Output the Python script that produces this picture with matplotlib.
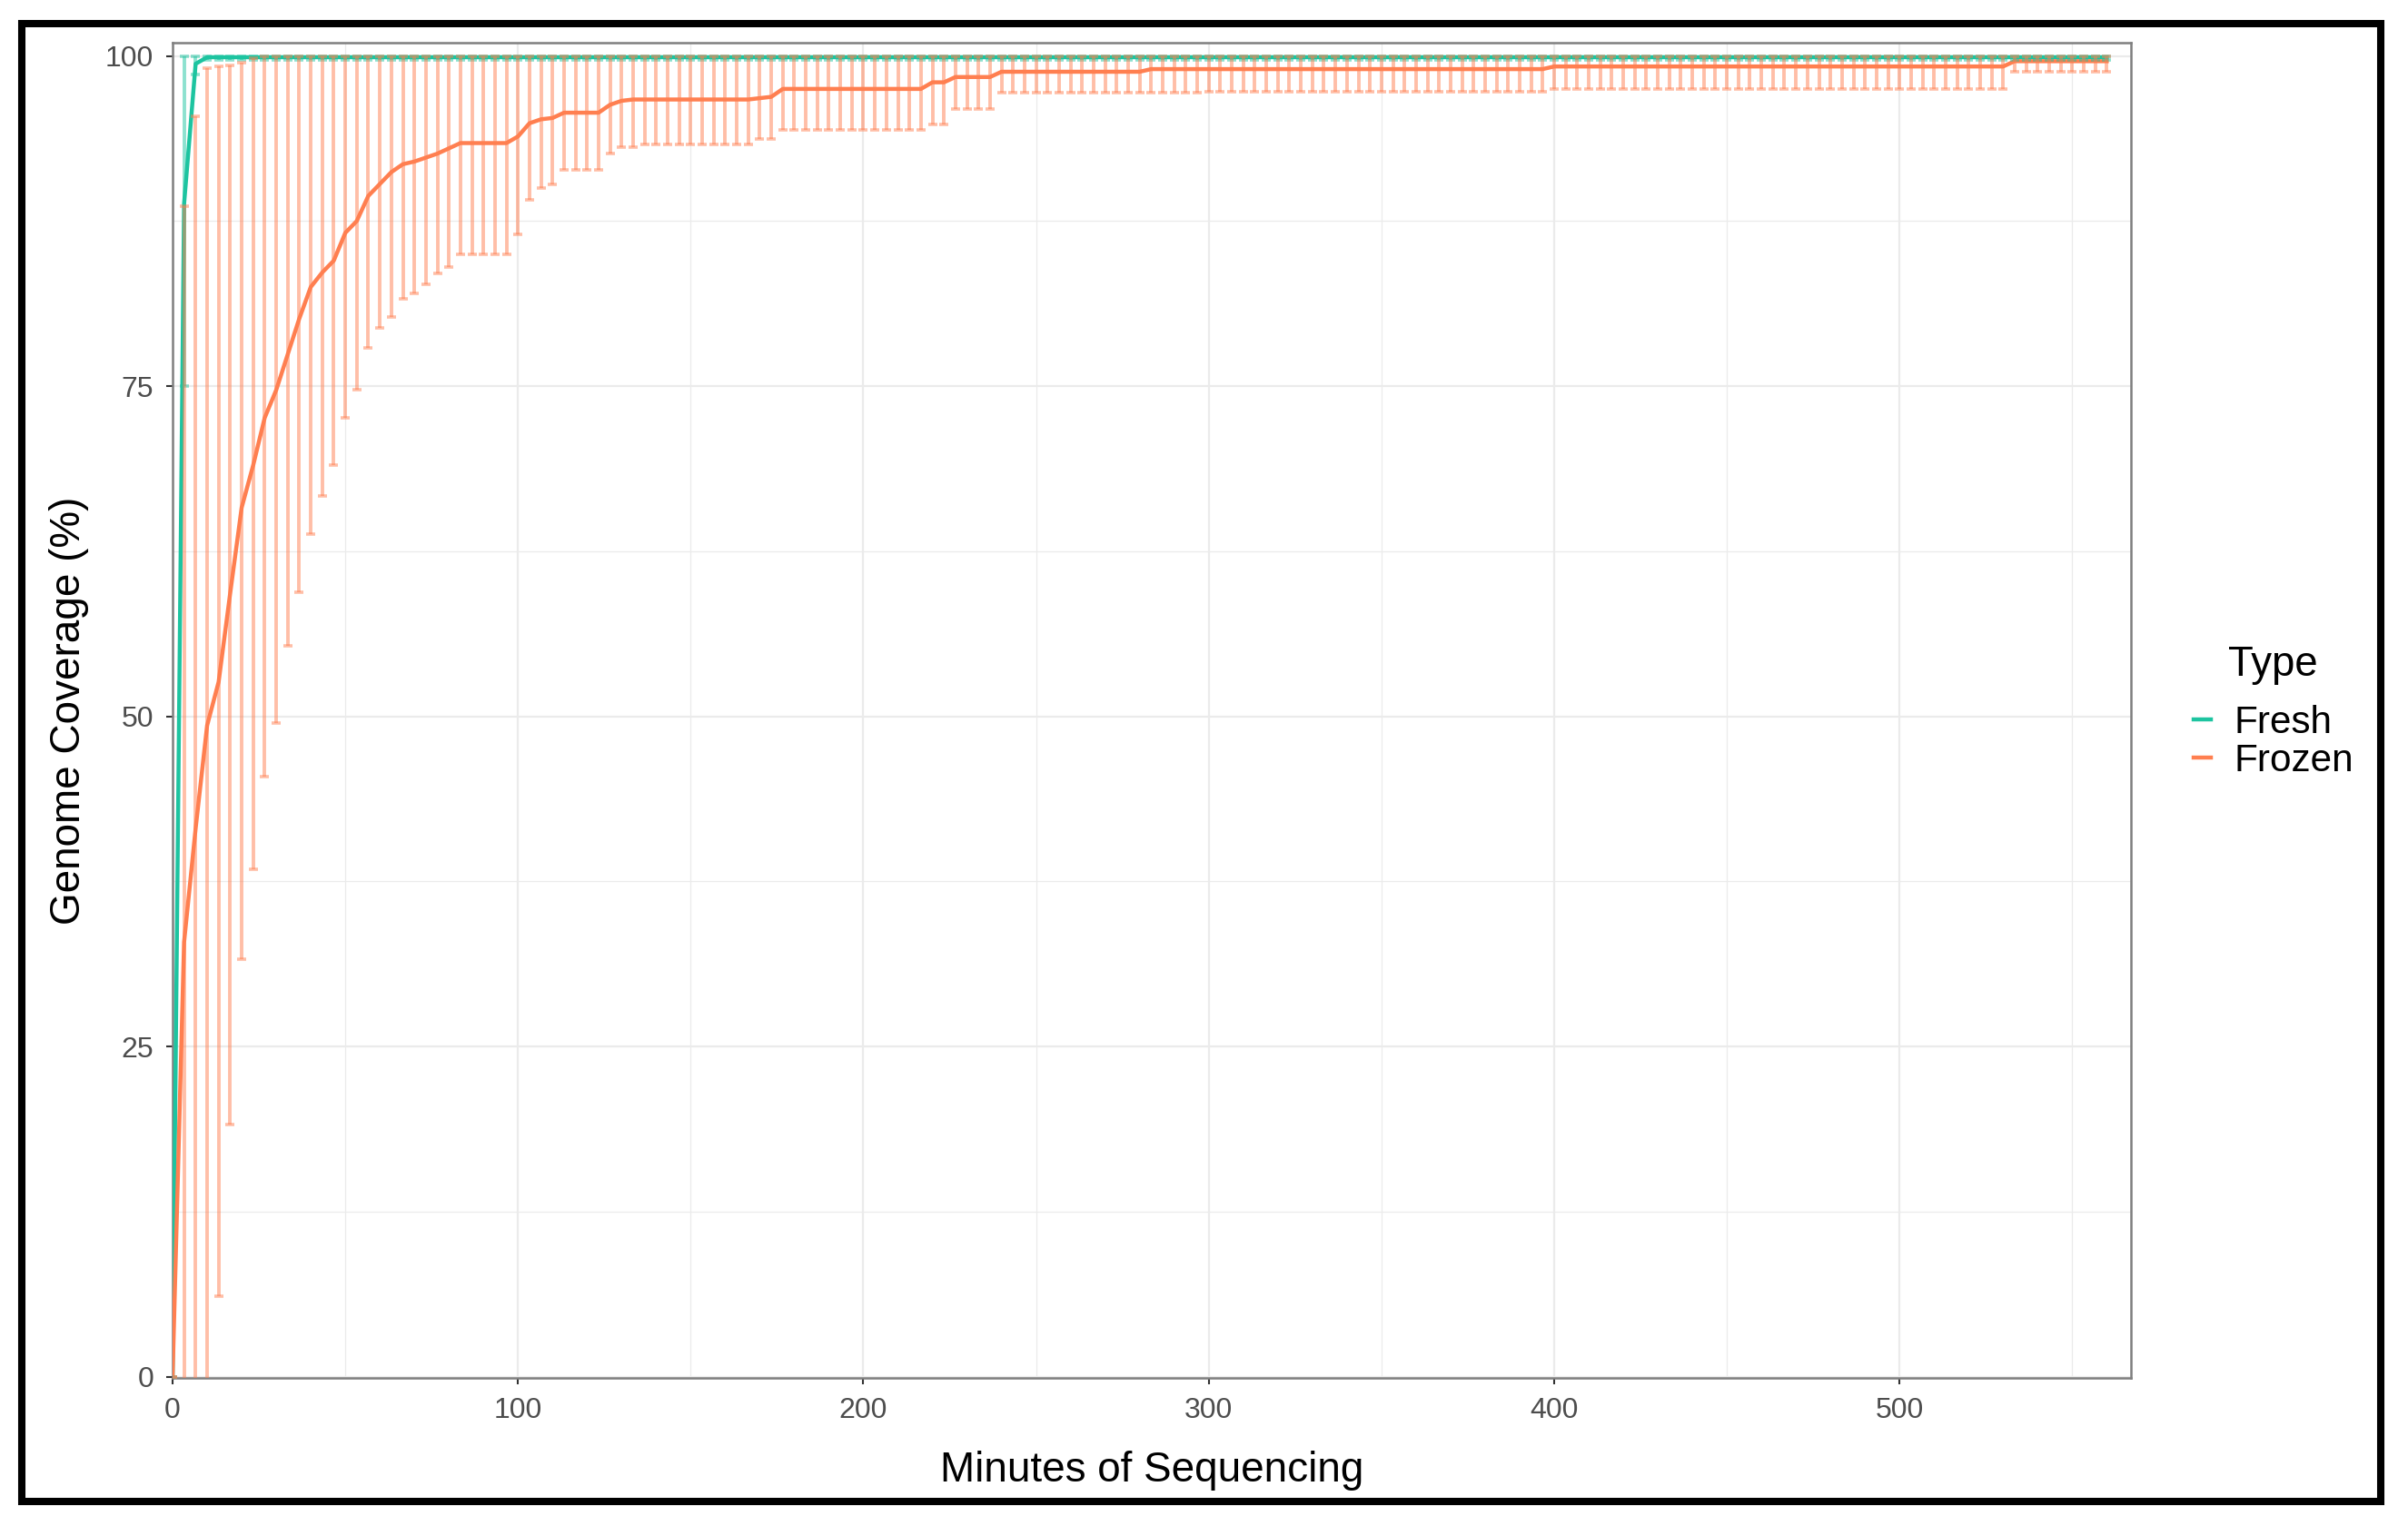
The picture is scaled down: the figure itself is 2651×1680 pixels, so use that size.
import matplotlib
matplotlib.use('Agg')
import matplotlib.pyplot as plt
from matplotlib.patches import Rectangle

plt.rcParams['font.family'] = ['Liberation Sans', 'DejaVu Sans']

# sampling times (minutes)
minutes = [0, 3.33, 6.67, 10, 13.33, 16.67, 20, 23.33, 26.67, 30, 33.33, 36.67,
           40, 43.33, 46.67, 50, 53.33, 56.67, 60, 63.33, 66.67, 70, 73.33, 76.67,
           80, 83.33, 86.67, 90, 93.33, 96.67, 100, 103.33, 106.67, 110, 113.33, 116.67,
           120, 123.33, 126.67, 130, 133.33, 136.67, 140, 143.33, 146.67, 150, 153.33, 156.67,
           160, 163.33, 166.67, 170, 173.33, 176.67, 180, 183.33, 186.67, 190, 193.33, 196.67,
           200, 203.33, 206.67, 210, 213.33, 216.67, 220, 223.33, 226.67, 230, 233.33, 236.67,
           240, 243.33, 246.67, 250, 253.33, 256.67, 260, 263.33, 266.67, 270, 273.33, 276.67,
           280, 283.33, 286.67, 290, 293.33, 296.67, 300, 303.33, 306.67, 310, 313.33, 316.67,
           320, 323.33, 326.67, 330, 333.33, 336.67, 340, 343.33, 346.67, 350, 353.33, 356.67,
           360, 363.33, 366.67, 370, 373.33, 376.67, 380, 383.33, 386.67, 390, 393.33, 396.67,
           400, 403.33, 406.67, 410, 413.33, 416.67, 420, 423.33, 426.67, 430, 433.33, 436.67,
           440, 443.33, 446.67, 450, 453.33, 456.67, 460, 463.33, 466.67, 470, 473.33, 476.67,
           480, 483.33, 486.67, 490, 493.33, 496.67, 500, 503.33, 506.67, 510, 513.33, 516.67,
           520, 523.33, 526.67, 530, 533.33, 536.67, 540, 543.33, 546.67, 550, 553.33, 556.67,
           560]

fresh_mean = [0, 88.8, 99.4, 99.9, 99.9, 99.9, 99.9, 99.9, 99.9, 99.9, 99.9, 99.9,
              99.9, 99.9, 99.9, 99.9, 99.9, 99.9, 99.9, 99.9, 99.9, 99.9, 99.9, 99.9,
              99.9, 99.9, 99.9, 99.9, 99.9, 99.9, 99.9, 99.9, 99.9, 99.9, 99.9, 99.9,
              99.9, 99.9, 99.9, 99.9, 99.9, 99.9, 99.9, 99.9, 99.9, 99.9, 99.9, 99.9,
              99.9, 99.9, 99.9, 99.9, 99.9, 99.9, 99.9, 99.9, 99.9, 99.9, 99.9, 99.9,
              99.9, 99.9, 99.9, 99.9, 99.9, 99.9, 99.9, 99.9, 99.9, 99.9, 99.9, 99.9,
              99.9, 99.9, 99.9, 99.9, 99.9, 99.9, 99.9, 99.9, 99.9, 99.9, 99.9, 99.9,
              99.9, 99.9, 99.9, 99.9, 99.9, 99.9, 99.9, 99.9, 99.9, 99.9, 99.9, 99.9,
              99.9, 99.9, 99.9, 99.9, 99.9, 99.9, 99.9, 99.9, 99.9, 99.9, 99.9, 99.9,
              99.9, 99.9, 99.9, 99.9, 99.9, 99.9, 99.9, 99.9, 99.9, 99.9, 99.9, 99.9,
              99.9, 99.9, 99.9, 99.9, 99.9, 99.9, 99.9, 99.9, 99.9, 99.9, 99.9, 99.9,
              99.9, 99.9, 99.9, 99.9, 99.9, 99.9, 99.9, 99.9, 99.9, 99.9, 99.9, 99.9,
              99.9, 99.9, 99.9, 99.9, 99.9, 99.9, 99.9, 99.9, 99.9, 99.9, 99.9, 99.9,
              99.9, 99.9, 99.9, 99.9, 99.9, 99.9, 99.9, 99.9, 99.9, 99.9, 99.9, 99.9,
              99.9]
fresh_low = [0, 75.0, 98.6, 99.7, 99.7, 99.7, 99.7, 99.7, 99.7, 99.7, 99.7, 99.7,
             99.7, 99.7, 99.7, 99.7, 99.7, 99.7, 99.7, 99.7, 99.7, 99.7, 99.7, 99.7,
             99.7, 99.7, 99.7, 99.7, 99.7, 99.7, 99.7, 99.7, 99.7, 99.7, 99.7, 99.7,
             99.7, 99.7, 99.7, 99.7, 99.7, 99.7, 99.7, 99.7, 99.7, 99.7, 99.7, 99.7,
             99.7, 99.7, 99.7, 99.7, 99.7, 99.7, 99.7, 99.7, 99.7, 99.7, 99.7, 99.7,
             99.7, 99.7, 99.7, 99.7, 99.7, 99.7, 99.7, 99.7, 99.7, 99.7, 99.7, 99.7,
             99.7, 99.7, 99.7, 99.7, 99.7, 99.7, 99.7, 99.7, 99.7, 99.7, 99.7, 99.7,
             99.7, 99.7, 99.7, 99.7, 99.7, 99.7, 99.7, 99.7, 99.7, 99.7, 99.7, 99.7,
             99.7, 99.7, 99.7, 99.7, 99.7, 99.7, 99.7, 99.7, 99.7, 99.7, 99.7, 99.7,
             99.7, 99.7, 99.7, 99.7, 99.7, 99.7, 99.7, 99.7, 99.7, 99.7, 99.7, 99.7,
             99.7, 99.7, 99.7, 99.7, 99.7, 99.7, 99.7, 99.7, 99.7, 99.7, 99.7, 99.7,
             99.7, 99.7, 99.7, 99.7, 99.7, 99.7, 99.7, 99.7, 99.7, 99.7, 99.7, 99.7,
             99.7, 99.7, 99.7, 99.7, 99.7, 99.7, 99.7, 99.7, 99.7, 99.7, 99.7, 99.7,
             99.7, 99.7, 99.7, 99.7, 99.7, 99.7, 99.7, 99.7, 99.7, 99.7, 99.7, 99.7,
             99.7]
fresh_high = [0, 100, 100, 100, 100, 100, 100, 100, 100, 100, 100, 100,
              100, 100, 100, 100, 100, 100, 100, 100, 100, 100, 100, 100,
              100, 100, 100, 100, 100, 100, 100, 100, 100, 100, 100, 100,
              100, 100, 100, 100, 100, 100, 100, 100, 100, 100, 100, 100,
              100, 100, 100, 100, 100, 100, 100, 100, 100, 100, 100, 100,
              100, 100, 100, 100, 100, 100, 100, 100, 100, 100, 100, 100,
              100, 100, 100, 100, 100, 100, 100, 100, 100, 100, 100, 100,
              100, 100, 100, 100, 100, 100, 100, 100, 100, 100, 100, 100,
              100, 100, 100, 100, 100, 100, 100, 100, 100, 100, 100, 100,
              100, 100, 100, 100, 100, 100, 100, 100, 100, 100, 100, 100,
              100, 100, 100, 100, 100, 100, 100, 100, 100, 100, 100, 100,
              100, 100, 100, 100, 100, 100, 100, 100, 100, 100, 100, 100,
              100, 100, 100, 100, 100, 100, 100, 100, 100, 100, 100, 100,
              100, 100, 100, 100, 100, 100, 100, 100, 100, 100, 100, 100,
              100]

frozen_mean = [0, 32.9, 41.5, 49.3, 52.6, 59.3, 65.8, 69.0, 72.6, 74.7, 77.4, 80.1,
               82.5, 83.6, 84.5, 86.6, 87.5, 89.4, 90.3, 91.2, 91.8, 92.0, 92.3, 92.6,
               93.0, 93.4, 93.4, 93.4, 93.4, 93.4, 93.9, 94.9, 95.2, 95.3, 95.7, 95.7,
               95.7, 95.7, 96.3, 96.6, 96.7, 96.7, 96.7, 96.7, 96.7, 96.7, 96.7, 96.7,
               96.7, 96.7, 96.7, 96.8, 96.9, 97.5, 97.5, 97.5, 97.5, 97.5, 97.5, 97.5,
               97.5, 97.5, 97.5, 97.5, 97.5, 97.5, 98.0, 98.0, 98.4, 98.4, 98.4, 98.4,
               98.8, 98.8, 98.8, 98.8, 98.8, 98.8, 98.8, 98.8, 98.8, 98.8, 98.8, 98.8,
               98.8, 99.0, 99.0, 99.0, 99.0, 99.0, 99.0, 99.0, 99.0, 99.0, 99.0, 99.0,
               99.0, 99.0, 99.0, 99.0, 99.0, 99.0, 99.0, 99.0, 99.0, 99.0, 99.0, 99.0,
               99.0, 99.0, 99.0, 99.0, 99.0, 99.0, 99.0, 99.0, 99.0, 99.0, 99.0, 99.0,
               99.2, 99.2, 99.2, 99.2, 99.2, 99.2, 99.2, 99.2, 99.2, 99.2, 99.2, 99.2,
               99.2, 99.2, 99.2, 99.2, 99.2, 99.2, 99.2, 99.2, 99.2, 99.2, 99.2, 99.2,
               99.2, 99.2, 99.2, 99.2, 99.2, 99.2, 99.2, 99.2, 99.2, 99.2, 99.2, 99.2,
               99.2, 99.2, 99.2, 99.2, 99.6, 99.6, 99.6, 99.6, 99.6, 99.6, 99.6, 99.6,
               99.6]
frozen_low = [0, -22.8, -12.4, -0.5, 6.1, 19.1, 31.6, 38.4, 45.4, 49.5, 55.3, 59.4,
              63.8, 66.7, 69.0, 72.6, 74.7, 77.9, 79.4, 80.2, 81.6, 82.0, 82.7, 83.5,
              84.0, 85.0, 85.0, 85.0, 85.0, 85.0, 86.5, 89.1, 90.0, 90.3, 91.4, 91.4,
              91.4, 91.4, 92.6, 93.1, 93.1, 93.3, 93.3, 93.3, 93.3, 93.3, 93.3, 93.3,
              93.3, 93.3, 93.3, 93.7, 93.7, 94.4, 94.4, 94.4, 94.4, 94.4, 94.4, 94.4,
              94.4, 94.4, 94.4, 94.4, 94.4, 94.4, 94.8, 94.8, 96.0, 96.0, 96.0, 96.0,
              97.2, 97.2, 97.2, 97.2, 97.2, 97.2, 97.2, 97.2, 97.2, 97.2, 97.2, 97.2,
              97.2, 97.2, 97.2, 97.2, 97.2, 97.2, 97.3, 97.3, 97.3, 97.3, 97.3, 97.3,
              97.3, 97.3, 97.3, 97.3, 97.3, 97.3, 97.3, 97.3, 97.3, 97.3, 97.3, 97.3,
              97.3, 97.3, 97.3, 97.3, 97.3, 97.3, 97.3, 97.3, 97.3, 97.3, 97.3, 97.3,
              97.5, 97.5, 97.5, 97.5, 97.5, 97.5, 97.5, 97.5, 97.5, 97.5, 97.5, 97.5,
              97.5, 97.5, 97.5, 97.5, 97.5, 97.5, 97.5, 97.5, 97.5, 97.5, 97.5, 97.5,
              97.5, 97.5, 97.5, 97.5, 97.5, 97.5, 97.5, 97.5, 97.5, 97.5, 97.5, 97.5,
              97.5, 97.5, 97.5, 97.5, 98.8, 98.8, 98.8, 98.8, 98.8, 98.8, 98.8, 98.8,
              98.8]
frozen_high = [0, 88.6, 95.4, 99.1, 99.2, 99.3, 99.5, 99.8, 100, 100, 100, 100,
               100, 100, 100, 100, 100, 100, 100, 100, 100, 100, 100, 100,
               100, 100, 100, 100, 100, 100, 100, 100, 100, 100, 100, 100,
               100, 100, 100, 100, 100, 100, 100, 100, 100, 100, 100, 100,
               100, 100, 100, 100, 100, 100, 100, 100, 100, 100, 100, 100,
               100, 100, 100, 100, 100, 100, 100, 100, 100, 100, 100, 100,
               100, 100, 100, 100, 100, 100, 100, 100, 100, 100, 100, 100,
               100, 100, 100, 100, 100, 100, 100, 100, 100, 100, 100, 100,
               100, 100, 100, 100, 100, 100, 100, 100, 100, 100, 100, 100,
               100, 100, 100, 100, 100, 100, 100, 100, 100, 100, 100, 100,
               100, 100, 100, 100, 100, 100, 100, 100, 100, 100, 100, 100,
               100, 100, 100, 100, 100, 100, 100, 100, 100, 100, 100, 100,
               100, 100, 100, 100, 100, 100, 100, 100, 100, 100, 100, 100,
               100, 100, 100, 100, 100, 100, 100, 100, 100, 100, 100, 100,
               100]

fresh_col = '#1dc4a0'
frozen_col = '#ff7f50'

W, H = 2651, 1680
fig = plt.figure(figsize=(W / 200, H / 200), dpi=200)
ax = fig.add_axes([190 / W, 1 - 1517 / H, 2156 / W, 1470 / H])

ax.plot(minutes, fresh_mean, color=fresh_col, lw=1.6, label='Fresh', zorder=3)
ax.plot(minutes, frozen_mean, color=frozen_col, lw=1.6, label='Frozen', zorder=3)

for mean, lo, hi, col in [(fresh_mean, fresh_low, fresh_high, fresh_col),
                          (frozen_mean, frozen_low, frozen_high, frozen_col)]:
    err = [[m - l for m, l in zip(mean, lo)], [h - m for m, h in zip(mean, hi)]]
    ax.errorbar(minutes, mean, yerr=err, fmt='none', ecolor=col, alpha=0.5,
                elinewidth=1.4, capsize=1.9, capthick=1.3, zorder=4)

ax.set_xlim(0, 567)
ax.set_ylim(-0.1, 101)
ax.set_xticks([0, 100, 200, 300, 400, 500])
ax.set_xticks([50, 150, 250, 350, 450, 550], minor=True)
ax.set_yticks([0, 25, 50, 75, 100])
ax.set_yticks([12.5, 37.5, 62.5, 87.5], minor=True)
ax.grid(which='major', color='#ebebeb', lw=0.8, zorder=0)
ax.grid(which='minor', color='#ebebeb', lw=0.45, zorder=0)
ax.set_axisbelow(True)
ax.tick_params(which='major', length=2.5, width=0.75, color='#333333',
               labelsize=11.5, labelcolor='#4d4d4d', pad=5)
ax.tick_params(which='minor', length=0)
for s in ax.spines.values():
    s.set_color('#7f7f7f')
    s.set_linewidth(0.9)

ax.set_xlabel('Minutes of Sequencing', fontsize=16.5, labelpad=10.5)
ax.set_ylabel('Genome Coverage (%)', fontsize=16.5, labelpad=6.5)

leg = ax.legend(loc='center left', bbox_to_anchor=(2394 / W, 1 - 817 / H),
                bbox_transform=fig.transFigure, frameon=False, fontsize=15.2,
                handlelength=0.45, handletextpad=0.6, labelspacing=0.05,
                borderpad=0)
for h in leg.get_lines():
    h.set_linewidth(1.6)
fig.text(2502 / W, 1 - 732 / H, 'Type', fontsize=16.4, ha='center', va='center')

# black frame around the whole figure
fig.patches.append(Rectangle((23.5 / W, 1 - 1652.5 / H), 2597.5 / W, 1626.5 / H,
                             transform=fig.transFigure, fill=False, lw=2.9,
                             edgecolor='black'))

plt.savefig('out.png', dpi=200)
